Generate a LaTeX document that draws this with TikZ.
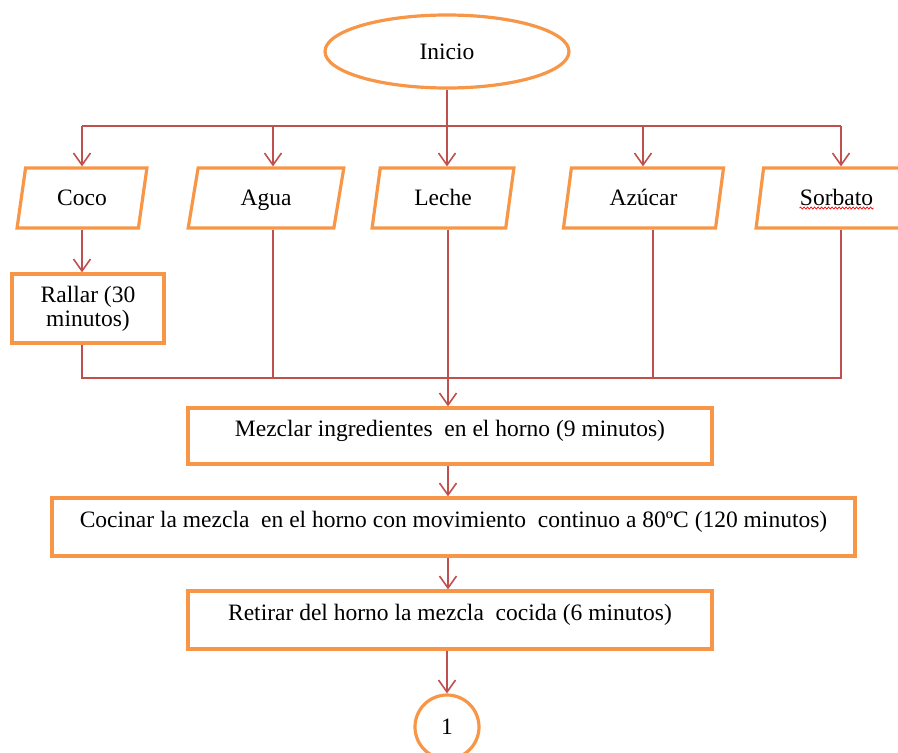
\documentclass[tikz,border=0pt]{standalone}
\usepackage{fontspec}
\setmainfont{Liberation Serif}
\usetikzlibrary{shapes.geometric,arrows.meta,decorations.pathmorphing}
\definecolor{lnred}{HTML}{C0504D}
\definecolor{boxor}{HTML}{F79646}
\begin{document}
\begin{tikzpicture}[x=1pt,y=-1pt,
  conn/.style={draw=lnred,line width=1.6pt},
  arr/.style={conn,-{Straight Barb[length=12pt,width=17pt,line width=1.6pt]}},
  box/.style={draw=boxor,line width=3.2pt,fill=white,inner sep=0pt,font=\fontsize{23.5}{25}\selectfont},
  para/.style={box,trapezium,trapezium left angle=76,trapezium right angle=104,trapezium stretches=true,minimum height=60pt,text height=15pt,text depth=0pt},
  proc/.style={box,rectangle}
]
\useasboundingbox (0,0) rectangle (898,753);
\clip (0,0) rectangle (898,753);

\node[box,ellipse,minimum width=244pt,minimum height=73pt] (inicio) at (447,51.5) {Inicio};

\node[para,minimum width=130pt] (coco) at (82,198) {Coco};
\node[para,minimum width=156pt] (agua) at (266,198) {Agua};
\node[para,minimum width=142pt] (leche) at (443,198) {Leche};
\node[para,minimum width=161pt] (azucar) at (643.5,198) {Azúcar};
\node[para,minimum width=161pt] (sorbato) at (836.5,198) {Sorbato};
\draw[red,line width=0.7pt,decorate,decoration={snake,amplitude=1pt,segment length=3.5pt}]
  [shift={(sorbato.center)}] (-37,10) -- (37,10);

\node[box,rectangle,minimum width=152pt,minimum height=69pt,align=center] (rallar) at (88,308.5) {Rallar (30\\[-1pt]minutos)};

\node[proc,minimum width=524pt,text height=28pt,text depth=28pt] (mezclar) at (450,436) {Mezclar ingredientes\ \ en el horno (9 minutos)};
\node[proc,minimum width=803pt,text height=29pt,text depth=29pt] (cocinar) at (453.5,527) {Cocinar la mezcla\ \ en el horno con movimiento\ \ continuo a 80ºC (120 minutos)};
\node[proc,minimum width=524pt,text height=29pt,text depth=29pt] (retirar) at (450,620) {Retirar del horno la mezcla\ \ cocida (6 minutos)};

\node[box,ellipse,minimum width=64pt,minimum height=64pt] (one) at (447,727) {1};

% top distribution bus
\coordinate (b0) at (447,126);
\coordinate (b1) at (82,126);
\coordinate (b2) at (273,126);
\coordinate (b4) at (643,126);
\coordinate (b5) at (841,126);
\draw[conn] (inicio.south) -- (b0);
\draw[conn] (b1) -- (b5);
\draw[arr] (b1) -- (b1 |- coco.north);
\draw[arr] (b2) -- (b2 |- agua.north);
\draw[arr] (b0) -- (b0 |- leche.north);
\draw[arr] (b4) -- (b4 |- azucar.north);
\draw[arr] (b5) -- (b5 |- sorbato.north);

% collection bus
\coordinate (c1) at (82,378);
\coordinate (c2) at (273,378);
\coordinate (c3) at (448,378);
\coordinate (c4) at (653,378);
\coordinate (c5) at (841,378);
\draw[arr] (coco.south -| c1) -- (rallar.north -| c1);
\draw[conn] (rallar.south -| c1) -- (c1) -- (c5) -- (sorbato.south -| c5);
\draw[conn] (agua.south -| c2) -- (c2);
\draw[conn] (azucar.south -| c4) -- (c4);
\draw[arr] (leche.south -| c3) -- (mezclar.north -| c3);

\draw[arr] (mezclar.south -| c3) -- (cocinar.north -| c3);
\draw[arr] (cocinar.south -| c3) -- (retirar.north -| c3);
\draw[arr] (retirar.south -| one.north) -- (one.north);
\end{tikzpicture}
\end{document}
